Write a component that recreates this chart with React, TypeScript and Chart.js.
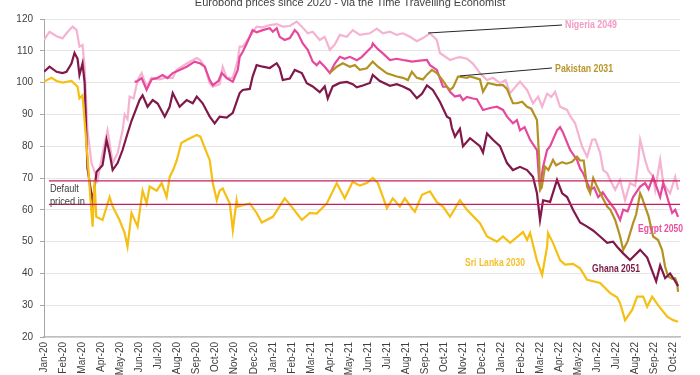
import React, { useEffect, useRef } from 'react';
import { Chart, registerables } from 'chart.js';

Chart.register(...registerables);

const TITLE = 'Eurobond prices since 2020 - via the Time Travelling Economist';

const monthLabels = [
  'Jan-20', 'Feb-20', 'Mar-20', 'Apr-20', 'May-20', 'Jun-20', 'Jul-20', 'Aug-20', 'Sep-20', 'Oct-20', 'Nov-20', 'Dec-20',
  'Jan-21', 'Feb-21', 'Mar-21', 'Apr-21', 'May-21', 'Jun-21', 'Jul-21', 'Aug-21', 'Sep-21', 'Oct-21', 'Nov-21', 'Dec-21',
  'Jan-22', 'Feb-22', 'Mar-22', 'Apr-22', 'May-22', 'Jun-22', 'Jul-22', 'Aug-22', 'Sep-22', 'Oct-22',
];

// [month index since Jan-20, price]
const sriLanka2030: [number, number][] = [
  [0, 100.3], [0.39, 101.5], [0.66, 100.5], [0.97, 100], [1.44, 100.5], [1.76, 98.7], [1.86, 95], [2.02, 96],
  [2.13, 88], [2.3, 75], [2.45, 62], [2.55, 54.7], [2.65, 69.4], [2.74, 57.8], [3.07, 56.8], [3.44, 64], [3.6, 61],
  [3.96, 56.8], [4.23, 52.7], [4.38, 48.4], [4.59, 59], [4.91, 54.7], [5.17, 66], [5.38, 62], [5.54, 67.3],
  [5.91, 66], [6.17, 68.4], [6.43, 64], [6.59, 70.4], [6.77, 72.5], [6.96, 75.5], [7.2, 81], [7.5, 82], [8.01, 83.5], [8.2, 83],
  [8.53, 78], [8.69, 75.6], [8.85, 68.4], [9.06, 63], [9.21, 66], [9.37, 66.7], [9.74, 62], [9.84, 56.8], [9.9, 53.6],
  [10.1, 63], [10.16, 61], [10.79, 62], [11.15, 59], [11.42, 56], [12.0, 57.8], [12.62, 63.6], [12.89, 61.7],
  [13.52, 56.8], [13.94, 59], [14.3, 58.8], [14.83, 62], [15.35, 68.4], [15.77, 63.6], [16.19, 68.8], [16.56, 67.6],
  [16.93, 68.4], [17.24, 70], [17.51, 68.4], [17.98, 60.5], [18.29, 63.6], [18.66, 61], [18.92, 63.6], [19.29, 60.5],
  [19.45, 59.4], [19.82, 64.7], [20.24, 65.8], [20.6, 62.4], [20.92, 61], [21.29, 57.8], [21.81, 63], [22.18, 60],
  [22.86, 55.8], [23.23, 51.6], [23.75, 50], [24.07, 51.6], [24.44, 49.6], [25.12, 53], [25.33, 50.5], [25.49, 52.7],
  [25.85, 44], [26.12, 39.5], [26.38, 48.4], [26.43, 52.7], [26.69, 49.6], [27.06, 44.2], [27.32, 42.8], [27.74, 43],
  [28.11, 41.6], [28.48, 38], [29.16, 37], [29.69, 33.8], [30.05, 32.5], [30.21, 30.6], [30.47, 25.3], [30.84, 28.5],
  [31.1, 32.7], [31.42, 32.7], [31.63, 29.5], [31.89, 32.7], [32.2, 30], [32.68, 26.4], [32.99, 25.3], [33.25, 24.8],
];

const ghana2051: [number, number][] = [
  [0, 103.4], [0.29, 105], [0.66, 103.4], [0.97, 103], [1.18, 103.4], [1.44, 106], [1.6, 109.3], [1.76, 107.5],
  [1.86, 102.4], [2.02, 106], [2.13, 100], [2.28, 73], [2.55, 62.5], [2.76, 72], [3.07, 74], [3.28, 82], [3.44, 77.8],
  [3.6, 72.5], [3.86, 74.7], [4.12, 78.8], [4.38, 84], [4.59, 88], [5.01, 94.5], [5.17, 96], [5.43, 92.4], [5.7, 94.5],
  [5.96, 93.4], [6.33, 89.3], [6.59, 92.4], [6.75, 96.7], [7.11, 92.4], [7.48, 94.5], [7.8, 93.5], [8.01, 95.6],
  [8.32, 93.5], [8.69, 89.3], [8.95, 87.2], [9.21, 89.3], [9.58, 89], [9.9, 90.5], [10.26, 96.7], [10.42, 97.7],
  [10.79, 98], [10.94, 101.9], [11.15, 105.5], [11.47, 105], [11.84, 104.6], [12.2, 106.1], [12.36, 104.5],
  [12.52, 100.8], [12.89, 101.3], [13.15, 104], [13.52, 103], [13.78, 99.8], [14.09, 98.8], [14.46, 97], [14.72, 98.8],
  [14.88, 95], [15.14, 98.8], [15.51, 99.9], [15.88, 100.2], [16.19, 99.5], [16.4, 98.5], [16.72, 99.1], [17.09, 99.9],
  [17.24, 102.4], [17.61, 100.5], [18.14, 99], [18.5, 99.5], [18.82, 98.8], [19.19, 97.7], [19.55, 95.1], [19.82, 96.5],
  [20.08, 99.1], [20.39, 97.7], [20.76, 94], [21.13, 89.3], [21.29, 88.7], [21.39, 85.7], [21.55, 83], [21.81, 85.5],
  [21.97, 80], [22.34, 82.5], [22.86, 80], [23.02, 78], [23.23, 84], [23.54, 82], [23.91, 80], [24.28, 74.7],
  [24.59, 72.5], [24.96, 73.5], [25.33, 72.5], [25.64, 70.4], [25.85, 65.2], [26.01, 56.8], [26.17, 63], [26.54, 62.5],
  [26.9, 69.4], [27.17, 65.2], [27.43, 64], [27.74, 60], [28.11, 56], [28.48, 54.7], [28.79, 53.5], [29.16, 51.6],
  [29.53, 49.6], [29.84, 50], [30.05, 48.4], [30.37, 46.3], [30.73, 44.2], [31.26, 47.4], [31.63, 45], [31.94, 40],
  [32.1, 37.5], [32.31, 42.5], [32.57, 38.5], [32.83, 40], [33.05, 38], [33.25, 36],
];

const nigeria2049: [number, number][] = [
  [0, 113.4], [0.29, 116], [0.66, 114.6], [0.97, 113.9], [1.18, 115.5], [1.5, 117.6], [1.71, 116.5], [1.86, 111.3],
  [2.02, 111.8], [2.13, 105], [2.28, 85], [2.49, 74.7], [2.81, 69.4], [3.07, 77.8], [3.33, 85], [3.44, 81], [3.6, 74.7],
  [3.86, 77.8], [4.12, 85], [4.23, 90], [4.38, 88.5], [4.49, 95.6], [4.7, 95], [4.91, 100.8], [5.12, 103], [5.38, 98.7],
  [5.64, 101.5], [6.06, 101], [6.33, 101.5], [6.75, 101.5], [6.96, 104], [7.48, 106], [8.01, 107.7], [8.2, 107],
  [8.43, 105], [8.69, 99.8], [8.85, 98.7], [9.21, 99.5], [9.37, 105], [9.58, 101.5], [9.9, 101.5], [10.16, 107.1],
  [10.26, 111.3], [10.42, 111.3], [10.79, 114.4], [11.15, 117.6], [11.47, 117.4], [11.84, 118.1], [12.2, 118.4],
  [12.52, 117.6], [12.89, 117.8], [13.25, 119.2], [13.52, 117.6], [13.83, 115.5], [14.09, 116], [14.46, 113.4],
  [14.72, 114.4], [14.99, 110.3], [15.25, 112], [15.51, 115], [15.88, 114.4], [16.19, 116.5], [16.56, 115],
  [17.09, 115.5], [17.45, 117], [17.77, 115.5], [18.14, 116], [18.5, 115], [18.82, 115.5], [19.19, 114.4],
  [19.55, 113], [19.87, 114], [20.24, 115.5], [20.6, 113.4], [20.76, 109.3], [21.29, 107.1], [21.65, 107.8],
  [21.81, 108], [22.18, 107.5], [22.49, 106], [22.86, 103], [23.23, 100.8], [23.54, 101.5], [23.91, 99.8],
  [24.2, 100.8], [24.44, 96.7], [24.8, 99.2], [24.96, 100.3], [25.33, 97.7], [25.64, 93.5], [25.91, 95.6],
  [26.12, 92.4], [26.38, 96.5], [26.6, 95.5], [26.8, 97.1], [27.06, 92.4], [27.43, 91.4], [27.59, 89.5], [27.85, 87.2],
  [28.01, 84], [28.22, 79.8], [28.48, 76.7], [28.74, 82], [28.9, 82.2], [29.16, 78], [29.32, 72.5], [29.53, 71.5],
  [29.69, 69.4], [29.95, 66.3], [30.21, 69.4], [30.47, 63], [30.73, 68.4], [31.0, 67.5], [31.15, 74.7], [31.26, 82],
  [31.52, 75.7], [31.68, 72.5], [31.94, 70.4], [32.05, 66.3], [32.31, 75.7], [32.47, 68.4], [32.83, 65.2],
  [33.1, 70.4], [33.25, 66.3],
];

const egypt2050: [number, number][] = [
  [4.75, 100.3], [4.86, 100.3], [5.12, 101.4], [5.38, 97.7], [5.64, 101], [5.91, 101.4], [6.22, 102.4], [6.48, 101.4],
  [6.75, 103], [7.11, 104], [7.48, 105], [7.9, 106.6], [8.2, 106], [8.43, 105], [8.69, 100.8], [8.85, 99.2],
  [9.15, 100.5], [9.32, 103], [9.58, 101.4], [9.9, 100.3], [10.16, 104], [10.26, 108.1], [10.42, 109.7],
  [10.63, 112.3], [10.94, 116.5], [11.15, 115.8], [11.47, 116.5], [11.84, 117.1], [12.0, 116], [12.2, 117.1],
  [12.36, 114.4], [12.62, 113.4], [12.89, 114], [13.15, 116.5], [13.31, 115.5], [13.57, 112.3], [13.83, 110.3],
  [14.09, 106.6], [14.3, 105.5], [14.46, 106.6], [14.72, 105], [14.99, 103], [15.25, 106], [15.51, 108.1],
  [15.77, 107.5], [16.04, 108.1], [16.4, 107], [16.67, 108.1], [16.93, 109.7], [17.19, 111.3], [17.24, 112.3],
  [17.51, 110.5], [17.77, 109.2], [18.14, 107.1], [18.5, 107.5], [18.82, 107.1], [19.03, 106.9], [19.29, 106.6],
  [19.71, 106.9], [20.08, 107.1], [20.24, 105.5], [20.6, 104], [20.66, 103], [20.92, 98.7], [21.13, 98.7],
  [21.29, 97.1], [21.55, 95.6], [21.81, 96], [21.97, 94.5], [22.18, 95.5], [22.49, 95], [22.7, 94.8], [23.02, 91.4],
  [23.39, 92], [23.75, 92.4], [24.07, 91.4], [24.28, 89.3], [24.59, 87.2], [24.8, 88.2], [24.96, 85], [25.2, 86],
  [25.49, 82], [25.85, 78.8], [25.96, 69.4], [26.01, 67.3], [26.17, 73.5], [26.38, 78.8], [26.54, 80], [26.9, 85],
  [27.06, 86], [27.2, 84.5], [27.59, 78.8], [27.95, 75.7], [28.11, 73], [28.27, 71.5], [28.64, 66.3], [28.85, 67],
  [29.06, 64], [29.3, 65.5], [29.58, 63], [29.95, 60], [30.21, 56.8], [30.37, 60], [30.6, 59.5], [30.89, 64],
  [31.26, 67.3], [31.52, 68.4], [31.7, 66.5], [31.94, 70.4], [32.1, 67.5], [32.31, 64], [32.47, 68.4], [32.73, 63],
  [32.94, 59], [33.1, 60], [33.25, 57.8],
];

const pakistan2031: [number, number][] = [
  [14.99, 103], [15.35, 105], [15.67, 106.1], [16.04, 105], [16.3, 105.5], [16.56, 104], [16.93, 104.5],
  [17.24, 106.6], [17.51, 105], [17.98, 102.9], [18.5, 101.9], [18.82, 101.5], [19.08, 100.8], [19.29, 103.4],
  [19.55, 101.5], [19.87, 101], [20.08, 102.5], [20.34, 104], [20.6, 103], [20.87, 101], [21.13, 98.7], [21.29, 97.7],
  [21.45, 98.5], [21.71, 101.9], [21.81, 101.9], [22.18, 101.5], [22.34, 101.9], [22.6, 101.5], [22.86, 101],
  [23.02, 97.1], [23.28, 99.9], [23.75, 99.2], [24.07, 99.2], [24.28, 98], [24.44, 95.6], [24.59, 93.5], [24.8, 93.5],
  [25.07, 94], [25.33, 92.4], [25.55, 91.8], [25.85, 88.2], [25.91, 82], [25.96, 76.7], [26.01, 66.3], [26.1, 67],
  [26.27, 73.6], [26.45, 72.5], [26.69, 75.7], [26.85, 74], [27.17, 75], [27.4, 74.5], [27.69, 75.1], [27.95, 76.7],
  [28.11, 75.5], [28.3, 75.5], [28.48, 67.3], [28.64, 65.2], [28.8, 70], [29.0, 67.3], [29.27, 64], [29.53, 61],
  [29.7, 60], [29.95, 56.8], [30.21, 51.6], [30.37, 47.4], [30.6, 50], [30.89, 55.8], [31.05, 58.5], [31.26, 65.2],
  [31.35, 64], [31.52, 61], [31.7, 58], [31.94, 51.6], [32.2, 50.5], [32.41, 47.4], [32.57, 42.1], [32.73, 39],
  [32.94, 38.3], [33.1, 38.5], [33.2, 36.9], [33.25, 34.2],
];

const defaultBand = [69.1, 61.7];
const defaultSpan = [0.26, 33.35];

const seriesLabels = [
  { text: 'Nigeria 2049', at: [27.32, 118.1], color: '#F29AC3', maxWidth: 52 },
  { text: 'Pakistan 2031', at: [26.8, 104.3], color: '#B8962C', maxWidth: 58 },
  { text: 'Egypt 2050', at: [31.15, 54.0], color: '#EA4F9E', maxWidth: 45 },
  { text: 'Ghana 2051', at: [28.74, 41.4], color: '#7A1A45', maxWidth: 48 },
  { text: 'Sri Lanka 2030', at: [22.08, 43.3], color: '#F2C12E', maxWidth: 60 },
];

const leaderLines = [
  { from: [20.14, 115.6], to: [27.16, 118.1] },
  { from: [21.81, 102.1], to: [26.64, 104.6] },
];

const defaultText = [
  { text: 'Default', at: [0.31, 66.5], maxWidth: 29 },
  { text: 'priced in', at: [0.31, 62.5], maxWidth: 35 },
];

const toXY = (arr: [number, number][]) => arr.map(([x, y]) => ({ x, y }));

const overlayPlugin = {
  id: 'overlay',
  afterDatasetsDraw(chart: any) {
    const { ctx } = chart;
    const xs = chart.scales.x;
    const ys = chart.scales.y;
    ctx.save();
    ctx.strokeStyle = '#262626';
    ctx.lineWidth = 1;
    for (const l of leaderLines) {
      ctx.beginPath();
      ctx.moveTo(xs.getPixelForValue(l.from[0]), ys.getPixelForValue(l.from[1]));
      ctx.lineTo(xs.getPixelForValue(l.to[0]), ys.getPixelForValue(l.to[1]));
      ctx.stroke();
    }
    ctx.textBaseline = 'middle';
    ctx.textAlign = 'left';
    ctx.font = 'bold 10px "Liberation Sans", Arial, sans-serif';
    for (const s of seriesLabels) {
      ctx.fillStyle = s.color;
      ctx.fillText(s.text, xs.getPixelForValue(s.at[0]), ys.getPixelForValue(s.at[1]), s.maxWidth);
    }
    ctx.font = '11px "Liberation Sans", Arial, sans-serif';
    ctx.fillStyle = '#404040';
    for (const d of defaultText) {
      ctx.fillText(d.text, xs.getPixelForValue(d.at[0]), ys.getPixelForValue(d.at[1]), d.maxWidth);
    }
    ctx.restore();
  },
  afterDraw(chart: any) {
    const { ctx } = chart;
    ctx.save();
    ctx.font = '11px "Liberation Sans", Arial, sans-serif';
    ctx.fillStyle = '#404040';
    ctx.textAlign = 'center';
    ctx.textBaseline = 'middle';
    ctx.fillText(TITLE, chart.width / 2, 3, 312);
    ctx.restore();
  },
};

export default function App() {
  const ref = useRef<HTMLCanvasElement | null>(null);

  useEffect(() => {
    if (!ref.current) return;
    const font = { family: '"Liberation Sans", Arial, sans-serif', size: 10 };
    const lineDs = (label: string, data: [number, number][], color: string, width = 2.2) => ({
      label,
      data: toXY(data),
      borderColor: color,
      backgroundColor: color,
      borderWidth: width,
      pointRadius: 0,
      tension: 0,
      fill: false,
    });
    const chart = new Chart(ref.current, {
      type: 'line',
      data: {
        datasets: [
          lineDs('Default upper', [[defaultSpan[0], defaultBand[0]], [defaultSpan[1], defaultBand[0]]], '#C81E5E', 1.3),
          lineDs('Default lower', [[defaultSpan[0], defaultBand[1]], [defaultSpan[1], defaultBand[1]]], '#C81E5E', 1.3),
          lineDs('Sri Lanka 2030', sriLanka2030, '#F5BF14'),
          lineDs('Ghana 2051', ghana2051, '#80184A'),
          lineDs('Pakistan 2031', pakistan2031, '#B39223'),
          lineDs('Egypt 2050', egypt2050, '#E5489C'),
          lineDs('Nigeria 2049', nigeria2049, '#F5B3D1'),
        ],
      },
      options: {
        animation: false,
        responsive: false,
        maintainAspectRatio: false,
        layout: { padding: { top: 19, right: 20, left: 0, bottom: 0 } },
        plugins: { legend: { display: false }, tooltip: { enabled: false }, title: { display: false } },
        scales: {
          x: {
            type: 'linear',
            min: 0,
            max: 33.35,
            afterFit: (s: any) => { s.height = 38; },
            afterBuildTicks: (s: any) => { s.ticks = monthLabels.map((_, i) => ({ value: i })); },
            grid: { display: false, drawTicks: false },
            border: { display: true, color: '#BFBFBF', width: 1.5 },
            ticks: {
              autoSkip: false,
              minRotation: 90,
              maxRotation: 90,
              padding: 5,
              color: '#404040',
              font,
              callback: (v: any) => monthLabels[v] ?? '',
            },
          },
          y: {
            min: 20,
            max: 120,
            afterFit: (s: any) => { s.width = 44; },
            grid: { color: '#E6E6E6', tickColor: '#A6A6A6', tickLength: 4, drawTicks: true },
            border: { display: true, color: '#A6A6A6', width: 1 },
            ticks: { stepSize: 10, padding: 7, color: '#404040', font },
          },
        },
      },
      plugins: [overlayPlugin],
    } as any);
    return () => chart.destroy();
  }, []);

  return (
    <div style={{ position: 'fixed', left: 0, top: 0, width: 700, height: 375, background: '#fff' }}>
      <canvas ref={ref} width={700} height={375} style={{ width: 700, height: 375 }} />
    </div>
  );
}
